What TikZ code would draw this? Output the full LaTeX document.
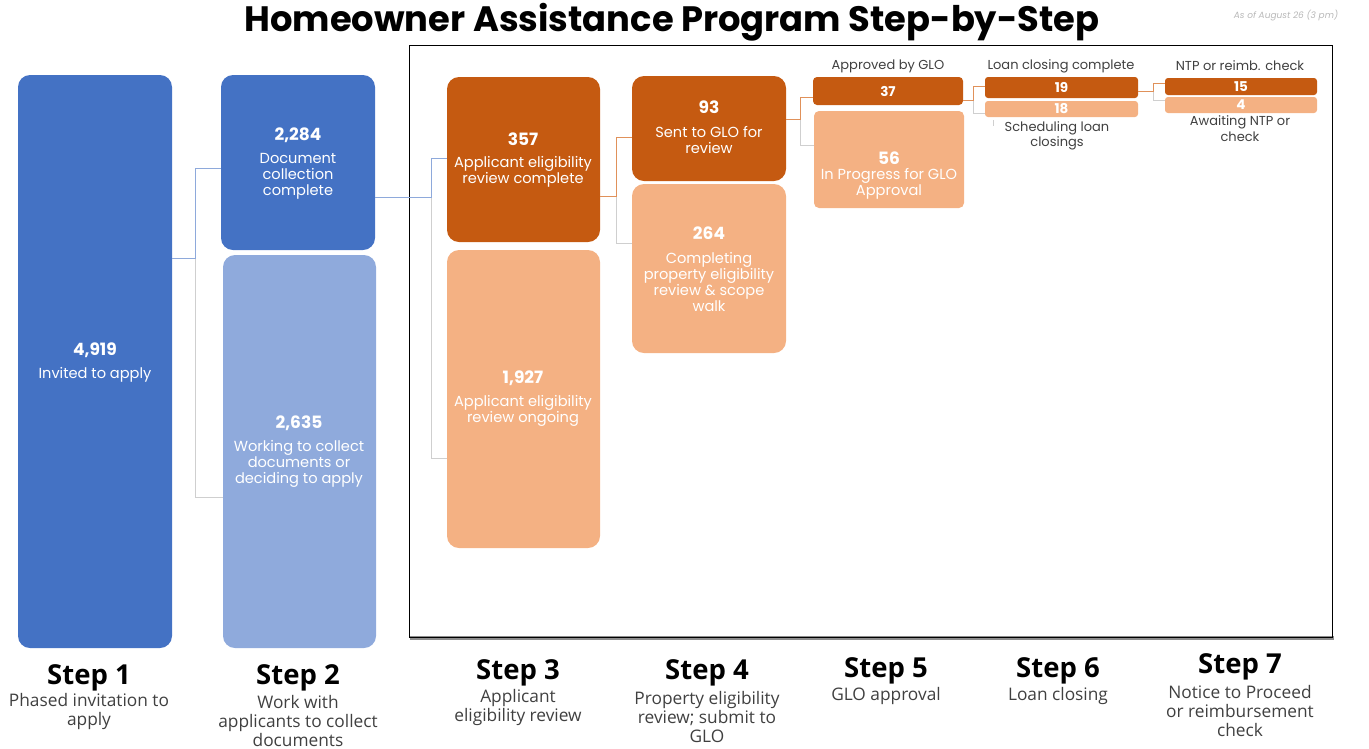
\documentclass[tikz,border=0pt]{standalone}
\usepackage{fontspec}
\setmainfont{Poppins}
\newfontfamily\osans{Open Sans}
\definecolor{bdark}{HTML}{4472C4}
\definecolor{blight}{HTML}{8FAADC}
\definecolor{odark}{HTML}{C55A11}
\definecolor{olight}{HTML}{F4B183}
\definecolor{bline}{HTML}{8EA9DB}
\definecolor{oline}{HTML}{E0915A}
\definecolor{gline}{HTML}{CFCFCF}
\definecolor{tgray}{HTML}{404040}
\begin{document}
\begin{tikzpicture}[x=1pt,y=-1pt,
  box/.style={draw=none, rounded corners=#1, inner sep=0pt, outer sep=0pt, anchor=north west},
  box/.default=12pt,
  num/.style={text=white, font=\bfseries\fontsize{17}{20}\selectfont, inner sep=0pt},
  snum/.style={text=white, font=\bfseries\fontsize{13.5}{15}\selectfont, inner sep=0pt},
  desc/.style={text=white, font=\fontsize{14.6}{16}\selectfont, align=center, inner sep=0pt},
  lab/.style={text=tgray, font=\fontsize{13}{15.5}\selectfont, align=center, inner sep=0pt},
  stephead/.style={font=\osans\bfseries\fontsize{27.5}{30}\selectfont, inner sep=0pt},
  stepdesc/.style={font=\osans\fontsize{17.3}{19}\selectfont, text=tgray, align=center, inner sep=0pt},
  bl/.style={draw=bline, line width=1pt},
  ol/.style={draw=oline, line width=1pt},
  gl/.style={draw=gline, line width=1pt}
]
\useasboundingbox (0,0) rectangle (1369,748);

% title
\node[font=\bfseries\fontsize{35.3}{40}\selectfont, inner sep=0pt] (title) at (672,22) {Homeowner Assistance Program Step-by-Step};
\node[font=\itshape\fontsize{9}{11}\selectfont, text=black!28, inner sep=0pt] (asof) at (1286,16) {As of August 26 (3 pm)};

% frame with shadow
\fill[black!45] (410,636) rectangle (1333.5,639.5);
\node[draw=black, line width=1.3pt, minimum width=923pt, minimum height=592pt, anchor=north west, inner sep=0pt] (frame) at (409,45) {};

% boxes
\node[box, fill=bdark, minimum width=154pt, minimum height=573pt] (b1) at (18,75) {};
\node[box, fill=bdark, minimum width=154pt, minimum height=175pt] (b2t) at (221,75) {};
\node[box, fill=blight, minimum width=153pt, minimum height=393pt] (b2b) at (223,255) {};
\node[box, fill=odark, minimum width=153pt, minimum height=165pt] (b3t) at (447,77) {};
\node[box, fill=olight, minimum width=153pt, minimum height=298pt] (b3b) at (447,250) {};
\node[box, fill=odark, minimum width=154pt, minimum height=105pt] (b4t) at (632,76) {};
\node[box, fill=olight, minimum width=154pt, minimum height=169pt] (b4b) at (632,184) {};
\node[box=4pt, fill=odark, minimum width=150pt, minimum height=28pt] (b5t) at (813,77) {};
\node[box=5pt, fill=olight, minimum width=150pt, minimum height=97pt] (b5b) at (814,111) {};
\node[box=3pt, fill=odark, minimum width=153pt, minimum height=21pt] (b6t) at (985,77) {};
\node[box=3pt, fill=olight, minimum width=153pt, minimum height=16pt] (b6b) at (985,101) {};
\node[box=3pt, fill=odark, minimum width=152pt, minimum height=17pt] (b7t) at (1165,78) {};
\node[box=3pt, fill=olight, minimum width=152pt, minimum height=16pt] (b7b) at (1165,97) {};

% box texts
\node[num] (n1) at (95,350) {4,919};
\node[desc] (d1) at (95,375) {Invited to apply};
\node[num] (n2t) at (298,135) {2,284};
\node[desc] (d2t) at (298,176) {Document\\collection\\complete};
\node[num] (n2b) at (299,423) {2,635};
\node[desc] (d2b) at (299,464) {Working to collect\\documents or\\deciding to apply};
\node[num] (n3t) at (523,139) {357};
\node[desc] (d3t) at (523,172) {Applicant eligibility\\review complete};
\node[num] (n3b) at (523,378) {1,927};
\node[desc] (d3b) at (523,411) {Applicant eligibility\\review ongoing};
\node[num] (n4t) at (709,107) {93};
\node[desc] (d4t) at (709,140) {Sent to GLO for\\review};
\node[num] (n4b) at (709,233) {264};
\node[desc] (d4b) at (709,282) {Completing\\property eligibility\\review \& scope\\walk};
\node[snum] (n5t) at (b5t.center) {37};
\node[num] (n5b) at (889,158) {56};
\node[desc] (d5b) at (889,184) {In Progress for GLO\\Approval};
\node[snum] (n6t) at (b6t.center) {19};
\node[snum] (n6b) at (b6b.center) {18};
\node[snum] (n7t) at (b7t.center) {15};
\node[snum] (n7b) at (b7b.center) {4};

% labels
\node[lab] (l5) at (888,66) {Approved by GLO};
\node[lab] (l6) at (1061,66) {Loan closing complete};
\node[lab] (l7) at (1240,66) {NTP or reimb. check};
\node[lab] (l6b) at (1057,136) {Scheduling loan\\closings};
\node[lab] (l7b) at (1240,128.5) {Awaiting NTP or\\check};

% connectors
\coordinate (j1) at (195,258); \coordinate (j1a) at (195,168); \coordinate (j1b) at (195,497);
\draw[gl] (j1) -- (j1b) -- (j1b -| b2b.west);
\draw[bl] (j1 -| b1.east) -- (j1) -- (j1a) -- (j1a -| b2t.west);
\coordinate (j2) at (431,197); \coordinate (j2a) at (431,158); \coordinate (j2b) at (431,458);
\draw[gl] (j2) -- (j2b) -- (j2b -| b3b.west);
\draw[bl] (j2 -| b2t.east) -- (j2) -- (j2a) -- (j2a -| b3t.west);
\coordinate (j3) at (616,196); \coordinate (j3a) at (616,137); \coordinate (j3b) at (616,243);
\draw[gl] (j3) -- (j3b) -- (j3b -| b4b.west);
\draw[ol] (j3 -| b3t.east) -- (j3) -- (j3a) -- (j3a -| b4t.west);
\coordinate (j4) at (800,119); \coordinate (j4a) at (800,97); \coordinate (j4b) at (800,145);
\draw[gl] (j4) -- (j4b) -- (j4b -| b5b.west);
\draw[ol] (j4 -| b4t.east) -- (j4) -- (j4a) -- (j4a -| b5t.west);
\coordinate (j5) at (973,100); \coordinate (j5a) at (973,86); \coordinate (j5b) at (973,113);
\draw[gl] (j5) -- (j5b) -- (j5b -| b6b.west);
\draw[ol] (j5 -| b5t.east) -- (j5) -- (j5a) -- (j5a -| b6t.west);
\coordinate (j6) at (1153,91); \coordinate (j6a) at (1153,83); \coordinate (j6b) at (1153,100);
\draw[gl] (j6) -- (j6b) -- (j6b -| b7b.west);
\draw[ol] (j6 -| b6t.east) -- (j6) -- (j6a) -- (j6a -| b7t.west);
\coordinate (tk) at (993,120);
\draw[gl] (tk) -- ++(0,6);

% steps
\node[stephead] (s1) at (89,678) {Step 1};
\node[stepdesc] (s1d) at (89,711.5) {Phased invitation to\\apply};
\node[stephead] (s2) at (298,678) {Step 2};
\node[stepdesc] (s2d) at (298,721) {Work with\\applicants to collect\\documents};
\node[stephead] (s3) at (518,673) {Step 3};
\node[stepdesc] (s3d) at (518,707.5) {Applicant\\eligibility review};
\node[stephead] (s4) at (707,673) {Step 4};
\node[stepdesc] (s4d) at (707,717) {Property eligibility\\review; submit to\\GLO};
\node[stephead] (s5) at (886,671) {Step 5};
\node[stepdesc] (s5d) at (886,696) {GLO approval};
\node[stephead] (s6) at (1058,671) {Step 6};
\node[stepdesc] (s6d) at (1058,696) {Loan closing};
\node[stephead] (s7) at (1240,667) {Step 7};
\node[stepdesc] (s7d) at (1240,711) {Notice to Proceed\\or reimbursement\\check};
\end{tikzpicture}
\end{document}
